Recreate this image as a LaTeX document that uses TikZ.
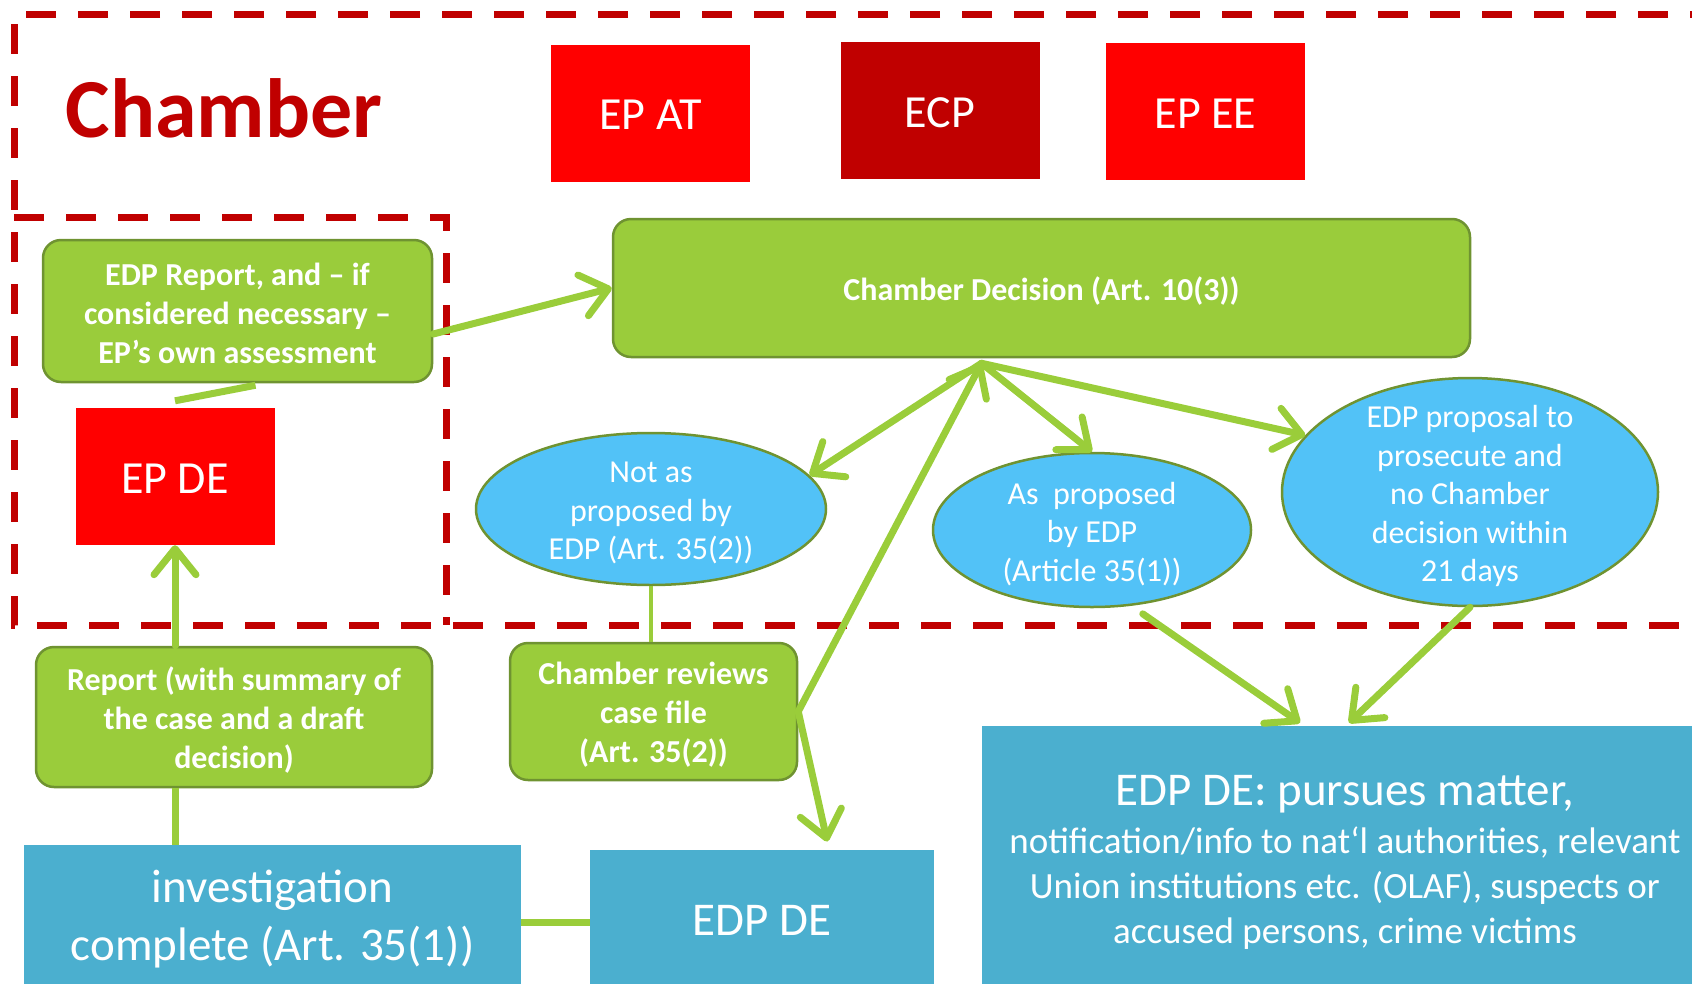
\documentclass[tikz,border=0pt]{standalone}
\usepackage{fontspec}
\setmainfont{Carlito}
\usetikzlibrary{arrows.meta,calc,shapes.geometric}
\definecolor{epred}{HTML}{FF0000}
\definecolor{darkred}{HTML}{C00000}
\definecolor{gfill}{HTML}{9ACC3B}
\definecolor{gborder}{HTML}{6F9331}
\definecolor{ltblue}{HTML}{52C2F7}
\definecolor{boxblue}{HTML}{4BAFCF}
\definecolor{arrowgreen}{HTML}{9ACD3A}
\begin{document}
\begin{tikzpicture}[x=1pt,y=-1pt,
  eprect/.style={fill=epred, text=white, minimum width=199pt, minimum height=137pt, inner sep=0pt, font=\fontsize{46}{55}\selectfont},
  gbox/.style={fill=gfill, draw=gborder, line width=2.5pt, rounded corners=18pt, text=white, font=\bfseries\fontsize{32}{39}\selectfont, align=center, inner sep=0pt},
  bubble/.style={ellipse, fill=ltblue, draw=gborder, line width=2.5pt, inner sep=0pt},
  bubbletext/.style={text=white, font=\fontsize{32}{38.5}\selectfont, align=center, inner sep=0pt},
  bluebox/.style={fill=boxblue, inner sep=0pt},
  bluetext/.style={text=white, align=center, inner sep=0pt},
  flow/.style={draw=arrowgreen, line width=7pt, line cap=round, -{Straight Barb[length=26pt,width=42pt,round]}},
  plainline/.style={draw=arrowgreen, line width=7pt},
  thinline/.style={draw=arrowgreen, line width=4pt},
  chamberline/.style={draw=darkred, line width=7pt, dash pattern=on 30pt off 22pt}
]
\useasboundingbox (0,0) rectangle (1692,983);
\clip (0,0) rectangle (1692,983);

% chamber dashed outlines
\draw[chamberline] (1720,14) -- (14,14) -- (14,625) -- (1720,625);
\draw[chamberline] (14,217) -- (446,217) -- (446,625);

\node[text=darkred, font=\bfseries\fontsize{84}{90}\selectfont, inner sep=0pt] (title) at (224,108) {Chamber};

% EP boxes
\node[eprect] (epat) at (650.5,113) {};
\node[text=white, font=\fontsize{46}{55}\selectfont, inner sep=0pt] at ($(epat)+(0,2)$) {EP AT};
\node[eprect, fill=darkred] (ecp) at (940,110.5) {};
\node[text=white, font=\fontsize{46}{55}\selectfont, inner sep=0pt] at ($(ecp)+(0,2)$) {ECP};
\node[eprect] (epee) at (1205.5,111.5) {};
\node[text=white, font=\fontsize{46}{55}\selectfont, inner sep=0pt] at ($(epee)+(0,2)$) {EP EE};
\node[eprect] (epde) at (175,476.5) {};
\node[text=white, font=\fontsize{46}{55}\selectfont, inner sep=0pt] at ($(epde)+(0,2)$) {EP DE};

% green boxes
\node[gbox, minimum width=857pt, minimum height=138pt] (cd) at (1041.5,288) {};
\node[gbox, draw=none, fill=none] at ($(cd)+(0,3)$) {Chamber Decision (Art. 10(3))};
\node[gbox, minimum width=389pt, minimum height=142pt] (rep1) at (237.5,311) {};
\node[gbox, draw=none, fill=none] at ($(rep1)+(0,2)$) {EDP Report, and -- if\\considered necessary --\\EP’s own assessment};
\node[gbox, minimum width=396pt, minimum height=140pt] (rep2) at (234,717) {};
\node[gbox, draw=none, fill=none] at ($(rep2)+(0,3)$) {Report (with summary of\\the case and a draft\\decision)};
\node[gbox, minimum width=287pt, minimum height=137pt] (crev) at (653.5,711.5) {};
\node[gbox, draw=none, fill=none] at ($(crev)+(0,3)$) {Chamber reviews\\case file\\(Art. 35(2))};

% ellipses
\node[bubble, minimum width=350pt, minimum height=152pt] (e1) at (651,509) {};
\node[bubbletext] at ($(e1)+(0,4)$) {Not as\\proposed by\\EDP (Art. 35(2))};
\node[bubble, minimum width=318pt, minimum height=154pt] (e2) at (1092,530) {};
\node[bubbletext] at ($(e2)+(0,4)$) {As~ proposed\\by EDP\\(Article 35(1))};
\node[bubble, minimum width=376pt, minimum height=228pt] (e3) at (1470,492) {};
\node[bubbletext] at ($(e3)+(0,4)$) {EDP proposal to\\prosecute and\\no Chamber\\decision within\\21 days};

% blue boxes
\node[bluebox, minimum width=497pt, minimum height=150pt] (inv) at (272.5,920) {};
\node[bluetext, font=\fontsize{47}{58}\selectfont] at (272.5,919) {investigation\\complete (Art. 35(1))};
\node[bluebox, minimum width=344pt, minimum height=145pt] (edpde) at (762,922) {};
\node[bluetext, font=\fontsize{47}{58}\selectfont] at (762,920) {EDP DE};
\node[bluebox, minimum width=718pt, minimum height=270pt] (pursue) at (1341,861) {};
\node[bluetext, anchor=base] at (1345,805) {\fontsize{47}{58}\selectfont EDP DE: pursues matter,};
\node[bluetext, font=\fontsize{37}{45}\selectfont, anchor=north] at (1345,827) {notification/info to nat‘l authorities, relevant\\Union institutions etc. (OLAF), suspects or\\accused persons, crime victims};

% connectors
\coordinate (hub) at ($(cd.south)+(-60,5)$);
\draw[flow] ($(rep1.east)+(0,23)$) -- (cd.west);
\draw[plainline] ($(rep1.south)+(18,2)$) -- ($(epde.north)+(0,-7)$);
\draw[flow] (epde.south |- rep2.north) -- (epde.south);
\draw[plainline] (epde.south |- inv.north) -- (epde.south |- rep2.south);
\draw[plainline] (inv.east |- edpde.west) -- (edpde.west);
\draw[thinline] (e1.south) -- (e1.south |- crev.north);
\draw[flow] (hub) -- (e1.12);
\draw[flow] (hub) -- (e2.north);
\draw[flow] (hub) -- (e3.161);
\draw[flow] (crev.east) -- (hub);
\draw[flow, shorten >=8pt] (crev.east) -- ($(edpde.north)+(67,0)$);
\draw[flow] ($(e2.-58)+(4,9)$) -- ($(pursue.north)+(-41,-3)$);
\draw[flow] (e3.south) -- ($(pursue.north)+(8,-3)$);
\end{tikzpicture}
\end{document}
